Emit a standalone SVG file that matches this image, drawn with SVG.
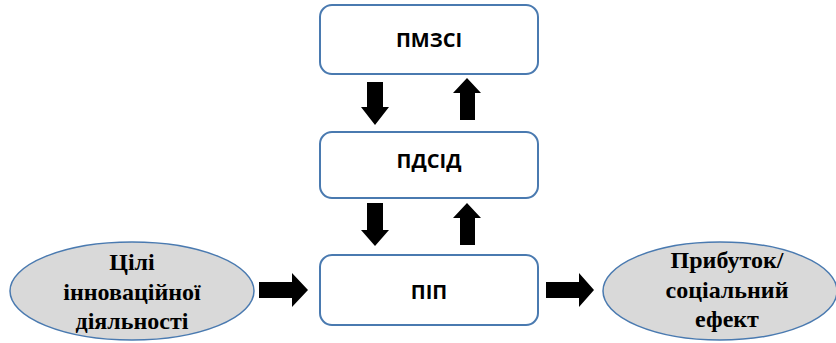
<svg xmlns="http://www.w3.org/2000/svg" width="836" height="343" viewBox="0 0 836 343">
<style>
.box{fill:#fff;stroke:#4a7ab0;stroke-width:2}
.ell{fill:#d9d9d9;stroke:#4a7ab0;stroke-width:1.5}
.bt{font-family:"Open Sans","Liberation Sans",sans-serif;font-weight:bold;font-size:20px;fill:#000;text-anchor:middle}
.et{font-family:'Liberation Serif','Times New Roman','DejaVu Serif',serif;font-weight:bold;font-size:24px;fill:#000;text-anchor:middle}
.arr{fill:#000}
</style>
<rect width="836" height="343" fill="#fff"/>
<g id="pmzsi"><rect class="box" x="320" y="5" width="218" height="69" rx="12"/><text class="bt" x="429" y="47">ПМЗСІ</text></g>
<g id="pdsid"><rect class="box" x="320" y="132" width="218" height="66" rx="12"/><text class="bt" x="429" y="168">ПДСІД</text></g>
<g id="pip"><rect class="box" x="320" y="255" width="218" height="70" rx="12"/><text class="bt" x="429" y="299">ПІП</text></g>
<g id="goals"><ellipse class="ell" cx="132" cy="291" rx="122" ry="49"/>
<text class="et" x="132" y="270">Цілі</text><text class="et" x="132" y="300">інноваційної</text><text class="et" x="132" y="329">діяльності</text></g>
<g id="profit"><ellipse class="ell" cx="720" cy="291" rx="117" ry="49"/>
<text class="et" x="727" y="268">Прибуток/</text><text class="et" x="727" y="298">соціальний</text><text class="et" x="727" y="327">ефект</text></g>
<g id="connectors">
<polygon class="arr" points="367,82 383,82 383,107 389,107 375,125 361,107 367,107"/>
<polygon class="arr" points="460,120 475,120 475,93 481,93 467,78 453,93 460,93"/>
<polygon class="arr" points="367,203 383,203 383,230 389,230 375,246 361,230 367,230"/>
<polygon class="arr" points="460,245 475,245 475,218 481,218 467,203 453,218 460,218"/>
<polygon class="arr" points="259,282 292,282 292,273 308,290 292,307 292,298 259,298"/>
<polygon class="arr" points="546,282 579,282 579,273 594,290 579,307 579,298 546,298"/>
</g>
</svg>
